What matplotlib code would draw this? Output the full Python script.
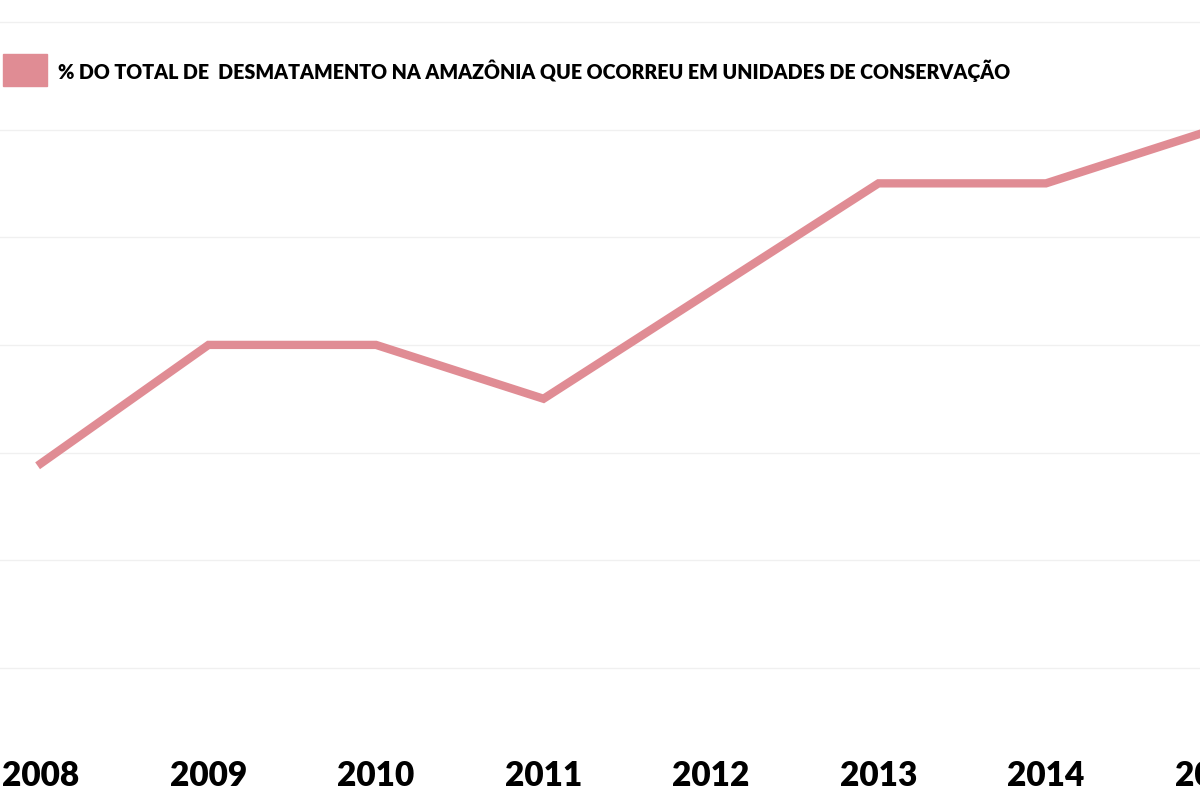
import numpy as np
import matplotlib.pyplot as plt
from matplotlib.patches import Rectangle

anos = ['2008', '2009', '2010', '2011', '2012', '2013', '2014', '2015']
percentual = [3.8, 6, 6, 5, 7, 9, 9, 10]
legenda = '% DO TOTAL DE  DESMATAMENTO NA AMAZÔNIA QUE OCORREU EM UNIDADES DE CONSERVAÇÃO'

cor = '#e08c94'
plt.rcParams['font.family'] = ['Lato', 'DejaVu Sans']

fig = plt.figure(figsize=(12, 8), dpi=100)
ax = fig.add_axes([0, 0, 1, 1])

x = np.arange(len(anos))
ax.plot(x, percentual, color=cor, linewidth=6, solid_joinstyle='miter', zorder=3)

# eixo x: 2008 em 41 px, 167.5 px entre anos
passo = 167.5
ax.set_xlim(-41 / passo, (1200 - 41) / passo)
# grade: 0 em 668 px, 53.85 px por unidade
ax.set_ylim((668 - 800) / 53.85, 668 / 53.85)

for v in range(0, 13, 2):
    ax.axhline(v, color='#f0f0f0', linewidth=1, zorder=1)

for xi, ano in zip(x, anos):
    ax.text(xi, (668 - 776) / 53.85, ano, ha='center', va='center',
            fontsize=24, fontweight='heavy', color='black', clip_on=False)

ax.axis('off')

fig.patches.append(Rectangle((3 / 1200, 1 - 86 / 800), 44 / 1200, 32 / 800,
                             transform=fig.transFigure, color=cor))
fig.text(58 / 1200, 1 - 71 / 800, legenda, ha='left', va='center',
         fontsize=14.1, fontweight='heavy', color='black')

fig.savefig('out.png', dpi=100, facecolor='white')
